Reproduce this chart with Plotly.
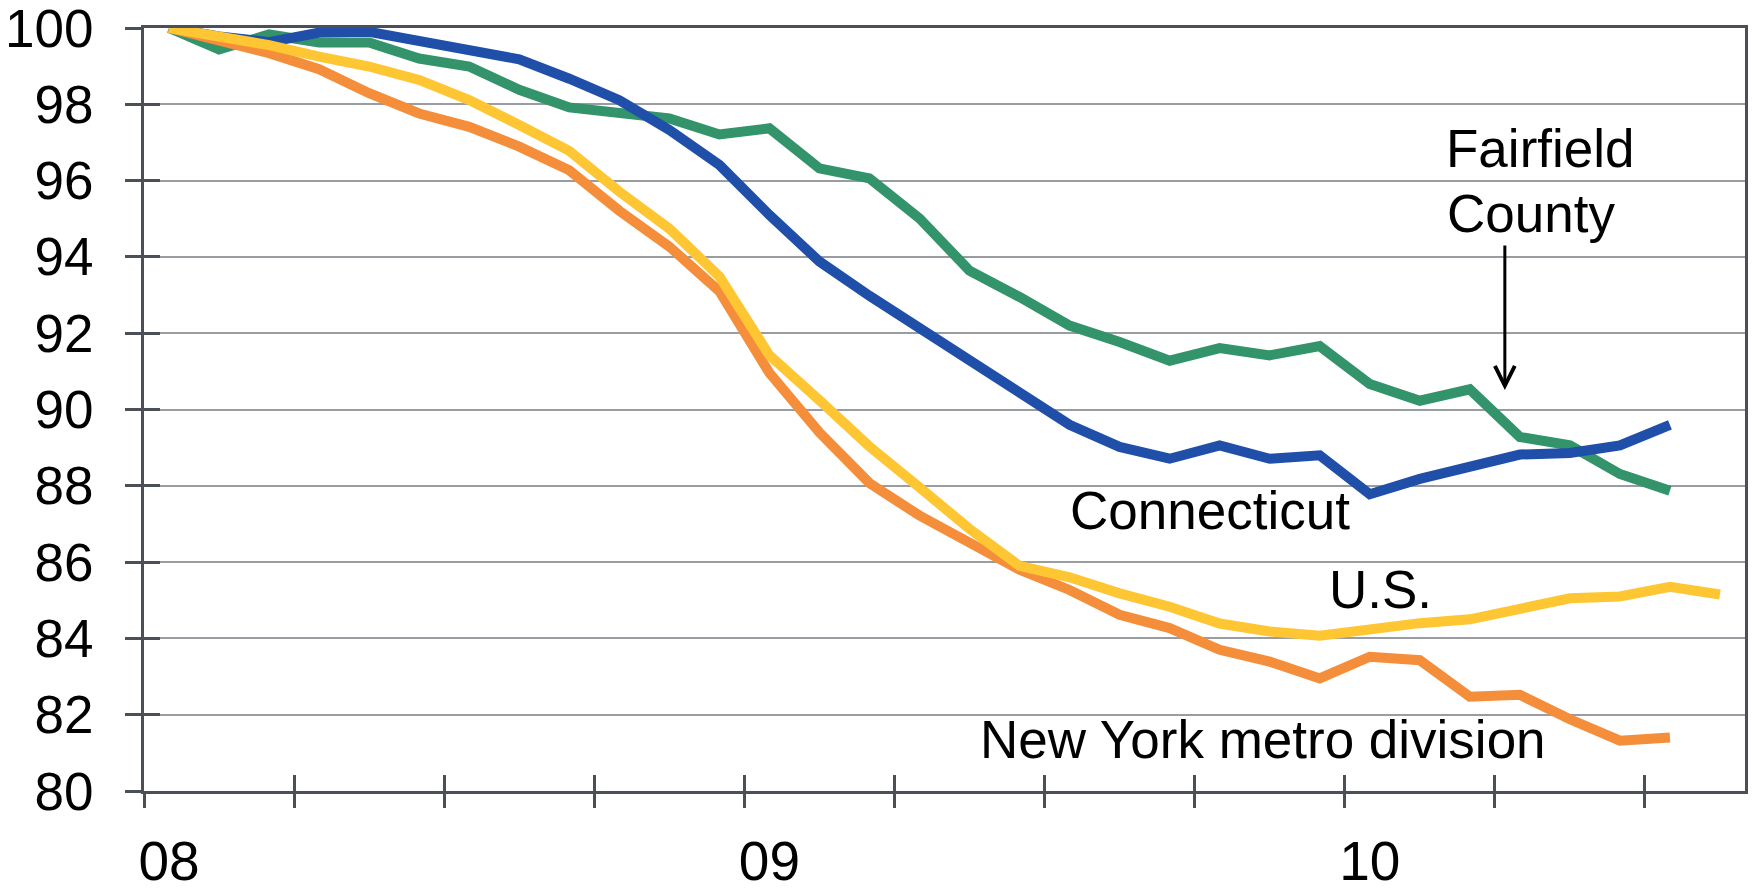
import plotly.graph_objects as go

# ---- data (monthly index, Jan 2008 = 100) ----
months = [f"{y}-{m:02d}" for y in (2008, 2009, 2010) for m in range(1, 13)][:32]
year_label_months = ["2008-01", "2009-01", "2010-01"]
year_labels = ["08", "09", "10"]

fairfield = [100, 99.44, 99.83, 99.62, 99.62, 99.20, 98.99, 98.38, 97.92, 97.76,
             97.63, 97.21, 97.37, 96.32, 96.06, 95.01, 93.64, 92.95, 92.20, 91.77,
             91.28, 91.61, 91.42, 91.66, 90.67, 90.23, 90.53, 89.28, 89.06, 88.31,
             87.87]
connecticut = [100, 99.78, 99.63, 99.88, 99.90, 99.64, 99.41, 99.18, 98.67, 98.11,
               97.33, 96.41, 95.10, 93.88, 92.98, 92.13, 91.30, 90.43, 89.60, 89.02,
               88.71, 89.06, 88.71, 88.80, 87.78, 88.18, 88.52, 88.82, 88.86, 89.06,
               89.60]
us = [100, 99.79, 99.55, 99.25, 98.99, 98.64, 98.11, 97.46, 96.78, 95.71,
      94.74, 93.49, 91.42, 90.24, 89.03, 87.96, 86.87, 85.90, 85.60, 85.18,
      84.83, 84.39, 84.18, 84.07, 84.26, 84.40, 84.50, 84.77, 85.05, 85.10,
      85.35, 85.15]
ny_metro = [100, 99.69, 99.34, 98.92, 98.29, 97.76, 97.41, 96.89, 96.27, 95.21,
            94.27, 93.10, 90.96, 89.40, 88.07, 87.22, 86.52, 85.80, 85.27, 84.62,
            84.27, 83.70, 83.39, 82.95, 83.52, 83.43, 82.47, 82.52, 81.88, 81.32,
            81.40]

y_ticks = list(range(80, 101, 2))

# ---- styles ----
FONT = "Liberation Sans, Arial, sans-serif"
AXIS = "#4b5056"
GRID = "#999ca0"
colors = {"fairfield": "#33936a", "connecticut": "#1f4fa8",
          "us": "#ffc633", "ny": "#f48e3b"}
LW = 10

idx = {m: i for i, m in enumerate(months)}
xr = [-0.5, len(months) - 0.5]
boundary_ticks = [i - 0.5 for i in range(0, len(months) - 1, 3)]

fig = go.Figure()

def add_series(vals, color):
    fig.add_trace(go.Scatter(
        x=list(range(len(vals))), y=vals, mode="lines",
        line=dict(color=color, width=LW), showlegend=False, hoverinfo="skip"))

add_series(fairfield, colors["fairfield"])
add_series(connecticut, colors["connecticut"])
add_series(ny_metro, colors["ny"])
add_series(us, colors["us"])

# dummy traces so overlay axes are drawn
for xa, ya in (("x2", "y"), ("x3", "y"), ("x", "y2")):
    fig.add_trace(go.Scatter(x=[None], y=[None], xaxis=xa, yaxis=ya,
                             showlegend=False, hoverinfo="skip"))

x_tick_font = dict(family=FONT, size=55, color="black")
y_tick_font = dict(family=FONT, size=53, color="black")

fig.update_layout(
    width=1752, height=893,
    margin=dict(l=144, r=7, t=28, b=102, autoexpand=False),
    paper_bgcolor="white", plot_bgcolor="white",
    showlegend=False,
    xaxis=dict(range=xr, tickvals=[idx[m] for m in year_label_months],
               ticktext=year_labels, ticks="", showgrid=False, zeroline=False,
               showline=True, linecolor=AXIS, linewidth=3, mirror=True,
               tickfont=x_tick_font, ticklabelstandoff=20, automargin=False,
               ticklabeloverflow="allow"),
    xaxis2=dict(range=xr, overlaying="x", anchor="y", tickvals=boundary_ticks,
                ticks="outside", ticklen=16, tickwidth=3, tickcolor=AXIS,
                showticklabels=False, showgrid=False, zeroline=False,
                showline=False, automargin=False),
    xaxis3=dict(range=xr, overlaying="x", anchor="y", tickvals=boundary_ticks,
                ticks="inside", ticklen=16, tickwidth=3, tickcolor=AXIS,
                showticklabels=False, showgrid=False, zeroline=False,
                showline=False, automargin=False),
    yaxis=dict(range=[80, 100], tickvals=y_ticks, ticks="outside", ticklen=16,
               tickwidth=3, tickcolor=AXIS, showgrid=True, gridcolor=GRID,
               gridwidth=2, zeroline=False, showline=True, linecolor=AXIS,
               linewidth=3, mirror=True, tickfont=y_tick_font,
               ticklabelstandoff=21, automargin=False,
               ticklabeloverflow="allow"),
    yaxis2=dict(range=[80, 100], overlaying="y", anchor="x", side="left",
                tickvals=y_ticks, ticks="inside", ticklen=16, tickwidth=3,
                tickcolor=AXIS, showticklabels=False, showgrid=False,
                zeroline=False, showline=False, automargin=False),
)

ann_font = dict(family=FONT, size=53, color="black")
labels = [
    ("Fairfield", 27.42, 96.83),
    ("County", 27.22, 95.14),
    ("Connecticut", 20.8, 87.34),
    ("U.S.", 24.22, 85.27),
    ("New York metro division", 21.86, 81.34),
]
for text, x, y in labels:
    fig.add_annotation(x=x, y=y, xref="x", yref="y", text=text, showarrow=False,
                       font=ann_font, xanchor="center", yanchor="middle")

fig.add_annotation(x=26.7, y=90.51, ax=26.7, ay=94.34, xref="x", yref="y",
                   axref="x", ayref="y", text="", showarrow=True,
                   arrowhead=5, arrowsize=1.3, arrowwidth=3, arrowcolor="black")

fig.write_html("out.html", config={"displayModeBar": False},
               post_script="document.body.style.margin='0';")
